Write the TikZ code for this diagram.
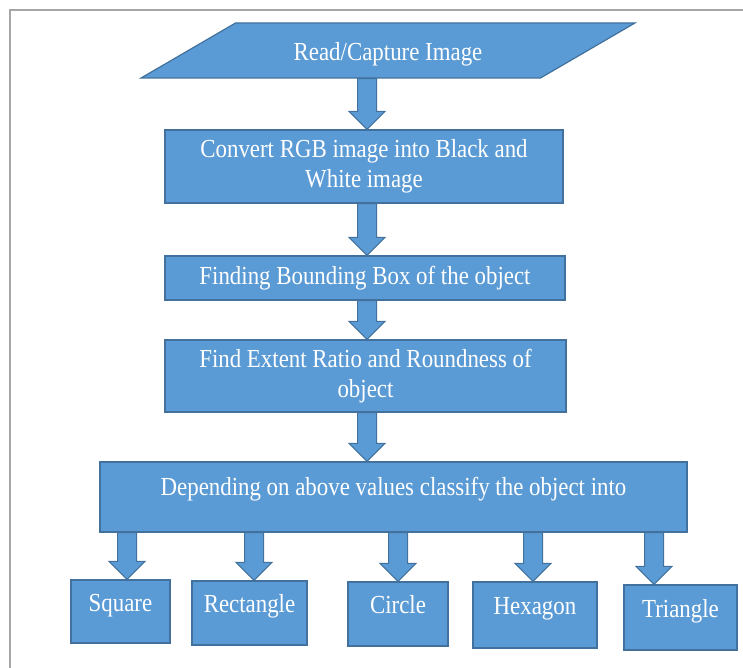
\documentclass[tikz,border=0pt]{standalone}
\usepackage{fontspec}
\setmainfont{Liberation Serif}[FakeStretch=0.88]
\usetikzlibrary{shapes.geometric, calc}
\definecolor{BoxBlue}{HTML}{5B9BD5}
\definecolor{EdgeBlue}{HTML}{41719C}
\definecolor{FrameGray}{HTML}{A6A6A6}

\tikzset{
  flowbox/.style={draw=EdgeBlue, fill=BoxBlue, line width=1.2pt, text=white,
    inner sep=0pt, align=center, font=\fontsize{26}{30}\selectfont},
  shapebox/.style={flowbox, text height=16pt, text depth=17pt},
  arrowbody/.style={draw=EdgeBlue, fill=BoxBlue, line width=1pt}
}

% block arrow straight down at x=#1, from node #2 to node #3
\newcommand{\blockarrow}[3]{%
  \path[arrowbody] let \p1=(#2.south), \p2=(#3.north) in
    (#1pt-9.5pt,\y1) -- (#1pt-9.5pt,\y2+18pt) -- (#1pt-18pt,\y2+18pt)
    -- (#1pt,\y2) -- (#1pt+18pt,\y2+18pt) -- (#1pt+9.5pt,\y2+18pt)
    -- (#1pt+9.5pt,\y1) -- cycle;}

\begin{document}
\begin{tikzpicture}[x=1pt, y=-1pt]
  \useasboundingbox (0,0) rectangle (743,668);
  \draw[FrameGray, line width=1.8pt] (743,10) -- (10,10) -- (10,668);

  \node[flowbox, trapezium, trapezium left angle=25.6, trapezium right angle=154.4,
        trapezium stretches=true, minimum width=495pt, minimum height=55pt,
        text height=24pt, text depth=4pt] (read) at (388,50.5) {Read/Capture Image};
  \node[flowbox, minimum width=398pt, minimum height=73pt] (convert) at (364,166.5)
    {Convert RGB image into Black and\\White image};
  \node[flowbox, minimum width=400pt, minimum height=44pt] (finding) at (365,278)
    {Finding Bounding Box of the object};
  \node[flowbox, minimum width=401pt, minimum height=72pt] (extent) at (365.5,376)
    {Find Extent Ratio and Roundness of\\object};
  \node[flowbox, minimum width=587pt, minimum height=70pt, text height=16pt,
        text depth=19pt] (classify) at (393.5,497)
    {Depending on above values classify the object into};

  \node[shapebox, minimum width=99pt, minimum height=63pt] (square) at (120.5,611.5) {Square};
  \node[shapebox, minimum width=115pt, minimum height=64pt] (rectangle) at (249.5,613) {Rectangle};
  \node[shapebox, minimum width=100pt, minimum height=64pt] (circle) at (398,614) {Circle};
  \node[shapebox, minimum width=124pt, minimum height=66pt] (hexagon) at (535,615) {Hexagon};
  \node[shapebox, minimum width=113pt, minimum height=65pt] (triangle) at (680.5,617.5) {Triangle};

  \blockarrow{367}{read}{convert}
  \blockarrow{367}{convert}{finding}
  \blockarrow{367}{finding}{extent}
  \blockarrow{367}{extent}{classify}

  \blockarrow{127}{classify}{square}
  \blockarrow{254}{classify}{rectangle}
  \blockarrow{398}{classify}{circle}
  \blockarrow{533}{classify}{hexagon}
  \blockarrow{654}{classify}{triangle}
\end{tikzpicture}
\end{document}
